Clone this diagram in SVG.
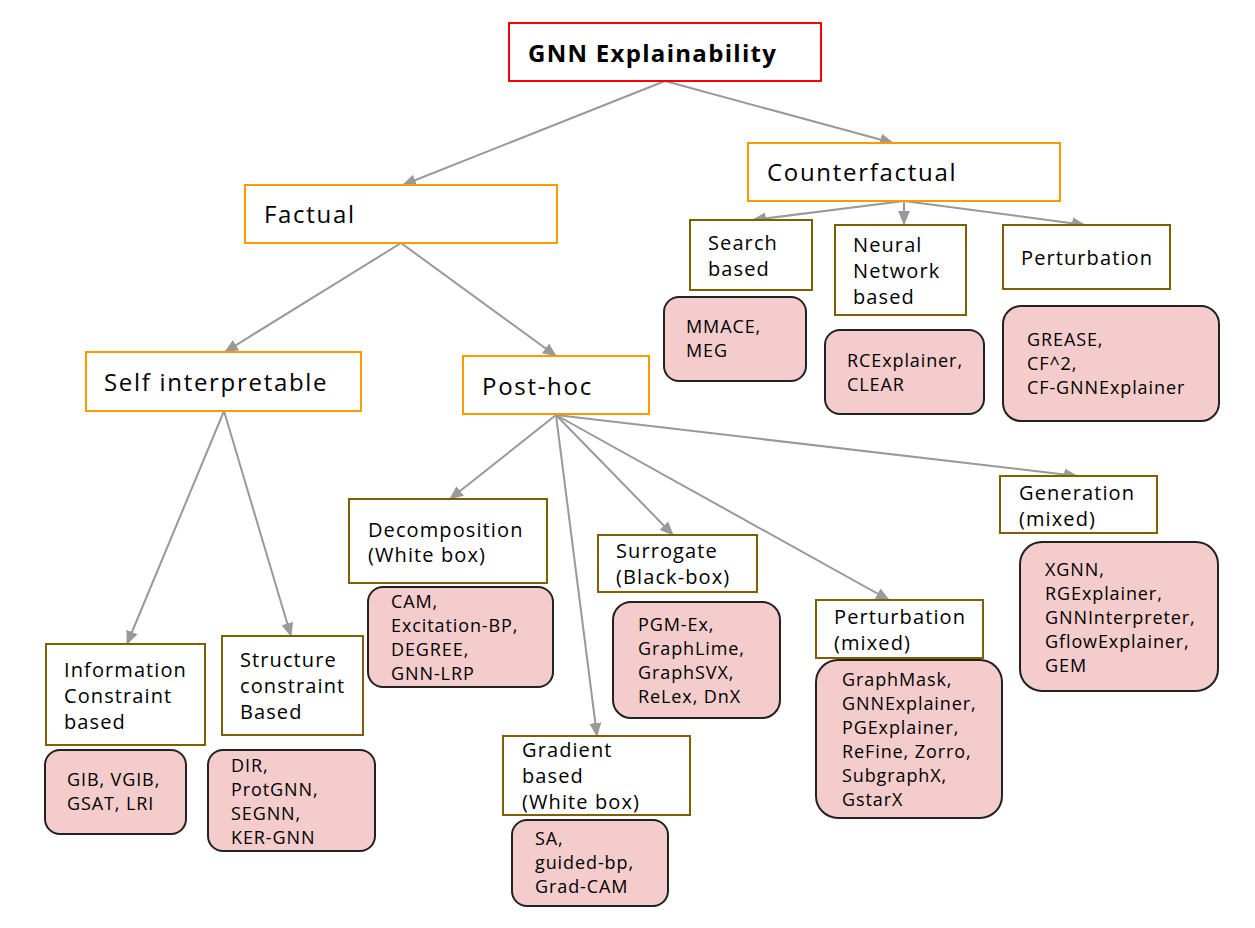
<svg xmlns="http://www.w3.org/2000/svg" width="1255" height="928" viewBox="0 0 1255 928">
<style>
text{font-family:"Open Sans","Liberation Sans",sans-serif;fill:#000}
.root{fill:#fff;stroke:#ff0000;stroke-width:2}
.main{fill:#fff;stroke:#ff9900;stroke-width:2}
.cat{fill:#fff;stroke:#7f6000;stroke-width:2}
.leaf{fill:#f4cccc;stroke:#222;stroke-width:2}
.t24{font-size:24px;letter-spacing:1.7px}
.tb{font-size:24px;letter-spacing:1.3px;font-weight:bold}
.t20{font-size:20px;letter-spacing:1.1px}
.t18{font-size:18px;letter-spacing:0.9px}
.edge{stroke:#999;stroke-width:2;fill:none;marker-end:url(#ah)}
</style>
<defs>
<marker id="ah" markerWidth="15" markerHeight="13" refX="13" refY="6" orient="auto" markerUnits="userSpaceOnUse" viewBox="0 0 15 12">
<path d="M0,0 L14,6 L0,12 Z" fill="#999"/>
</marker>
</defs>
<rect width="1255" height="928" fill="#fff"/>
<g id="connectors">
<line class="edge" x1="665" y1="81" x2="403" y2="185"/>
<line class="edge" x1="665" y1="81" x2="893" y2="143"/>
<line class="edge" x1="904" y1="201" x2="753" y2="220"/>
<line class="edge" x1="904" y1="201" x2="904" y2="224"/>
<line class="edge" x1="904" y1="201" x2="1085" y2="225"/>
<line class="edge" x1="401" y1="243" x2="225" y2="352"/>
<line class="edge" x1="401" y1="243" x2="556" y2="356"/>
<line class="edge" x1="224" y1="411" x2="127" y2="644"/>
<line class="edge" x1="224" y1="411" x2="291" y2="636"/>
<line class="edge" x1="556" y1="415" x2="450" y2="499"/>
<line class="edge" x1="556" y1="415" x2="597" y2="736"/>
<line class="edge" x1="556" y1="415" x2="673" y2="535"/>
<line class="edge" x1="556" y1="415" x2="889" y2="600"/>
<line class="edge" x1="556" y1="415" x2="1077" y2="476"/>
</g>
<g id="root"><rect class="root" x="509" y="23" width="312" height="58"/><text class="tb" x="528" y="62">GNN Explainability</text></g>
<g id="counterfactual"><rect class="main" x="748" y="143" width="312" height="58"/><text class="t24" x="767" y="181">Counterfactual</text></g>
<g id="factual"><rect class="main" x="245" y="185" width="312" height="58"/><text class="t24" x="264" y="223">Factual</text></g>
<g id="self-interpretable"><rect class="main" x="86" y="352" width="275" height="59"/><text class="t24" x="104" y="391">Self interpretable</text></g>
<g id="post-hoc"><rect class="main" x="463" y="356" width="186" height="58"/><text class="t24" x="482" y="395">Post-hoc</text></g>

<g id="search-based"><rect class="cat" x="690" y="220" width="122" height="70"/><text class="t20"><tspan x="708" y="250">Search</tspan><tspan x="708" y="276">based</tspan></text></g>
<g id="nn-based"><rect class="cat" x="835" y="225" width="131" height="90"/><text class="t20"><tspan x="853" y="252">Neural</tspan><tspan x="853" y="278">Network</tspan><tspan x="853" y="304">based</tspan></text></g>
<g id="cf-perturbation"><rect class="cat" x="1003" y="225" width="167" height="64"/><text class="t20" x="1021" y="265">Perturbation</text></g>

<g id="search-methods"><rect class="leaf" x="664" y="297" width="142" height="84" rx="15"/><text class="t18"><tspan x="686" y="333">MMACE,</tspan><tspan x="686" y="357">MEG</tspan></text></g>
<g id="nn-methods"><rect class="leaf" x="825" y="330" width="159" height="84" rx="15"/><text class="t18"><tspan x="847" y="367">RCExplainer,</tspan><tspan x="847" y="391">CLEAR</tspan></text></g>
<g id="cf-perturbation-methods"><rect class="leaf" x="1003" y="306" width="216" height="115" rx="18"/><text class="t18"><tspan x="1027" y="346">GREASE,</tspan><tspan x="1027" y="370">CF^2,</tspan><tspan x="1027" y="394">CF-GNNExplainer</tspan></text></g>

<g id="information-constraint"><rect class="cat" x="46" y="644" width="159" height="101"/><text class="t20"><tspan x="64" y="677">Information</tspan><tspan x="64" y="703">Constraint</tspan><tspan x="64" y="729">based</tspan></text></g>
<g id="structure-constraint"><rect class="cat" x="222" y="636" width="141" height="99"/><text class="t20"><tspan x="240" y="667">Structure</tspan><tspan x="240" y="693">constraint</tspan><tspan x="240" y="719">Based</tspan></text></g>
<g id="information-methods"><rect class="leaf" x="45" y="750" width="141" height="84" rx="15"/><text class="t18"><tspan x="67" y="786">GIB, VGIB,</tspan><tspan x="67" y="810">GSAT, LRI</tspan></text></g>
<g id="structure-methods"><rect class="leaf" x="208" y="750" width="167" height="101" rx="15"/><text class="t18"><tspan x="231" y="772">DIR,</tspan><tspan x="231" y="796">ProtGNN,</tspan><tspan x="231" y="820">SEGNN,</tspan><tspan x="231" y="844">KER-GNN</tspan></text></g>

<g id="decomposition"><rect class="cat" x="349" y="499" width="198" height="84"/><text class="t20"><tspan x="368" y="537">Decomposition</tspan><tspan x="368" y="562">(White box)</tspan></text></g>
<g id="decomposition-methods"><rect class="leaf" x="368" y="587" width="185" height="100" rx="15"/><text class="t18"><tspan x="391" y="608">CAM,</tspan><tspan x="391" y="632">Excitation-BP,</tspan><tspan x="391" y="656">DEGREE,</tspan><tspan x="391" y="680">GNN-LRP</tspan></text></g>
<g id="surrogate"><rect class="cat" x="598" y="535" width="159" height="57"/><text class="t20"><tspan x="616" y="558">Surrogate</tspan><tspan x="616" y="584">(Black-box)</tspan></text></g>
<g id="surrogate-methods"><rect class="leaf" x="613" y="602" width="167" height="116" rx="18"/><text class="t18"><tspan x="638" y="631">PGM-Ex,</tspan><tspan x="638" y="655">GraphLime,</tspan><tspan x="638" y="679">GraphSVX,</tspan><tspan x="638" y="703">ReLex, DnX</tspan></text></g>
<g id="gradient"><rect class="cat" x="503" y="736" width="187" height="79"/><text class="t20"><tspan x="522" y="757">Gradient</tspan><tspan x="522" y="783">based</tspan><tspan x="522" y="809">(White box)</tspan></text></g>
<g id="gradient-methods"><rect class="leaf" x="512" y="820" width="156" height="86" rx="15"/><text class="t18"><tspan x="535" y="845">SA,</tspan><tspan x="535" y="869">guided-bp,</tspan><tspan x="535" y="893">Grad-CAM</tspan></text></g>
<g id="perturbation-mixed"><rect class="cat" x="816" y="600" width="167" height="58"/><text class="t20"><tspan x="834" y="624">Perturbation</tspan><tspan x="834" y="650">(mixed)</tspan></text></g>
<g id="perturbation-methods"><rect class="leaf" x="816" y="660" width="186" height="158" rx="22"/><text class="t18"><tspan x="842" y="686">GraphMask,</tspan><tspan x="842" y="710">GNNExplainer,</tspan><tspan x="842" y="734">PGExplainer,</tspan><tspan x="842" y="758">ReFine, Zorro,</tspan><tspan x="842" y="782">SubgraphX,</tspan><tspan x="842" y="806">GstarX</tspan></text></g>
<g id="generation"><rect class="cat" x="1000" y="476" width="157" height="57"/><text class="t20"><tspan x="1019" y="500">Generation</tspan><tspan x="1019" y="526">(mixed)</tspan></text></g>
<g id="generation-methods"><rect class="leaf" x="1020" y="542" width="198" height="149" rx="22"/><text class="t18"><tspan x="1045" y="576">XGNN,</tspan><tspan x="1045" y="600">RGExplainer,</tspan><tspan x="1045" y="624">GNNInterpreter,</tspan><tspan x="1045" y="648">GflowExplainer,</tspan><tspan x="1045" y="672">GEM</tspan></text></g>
</svg>
